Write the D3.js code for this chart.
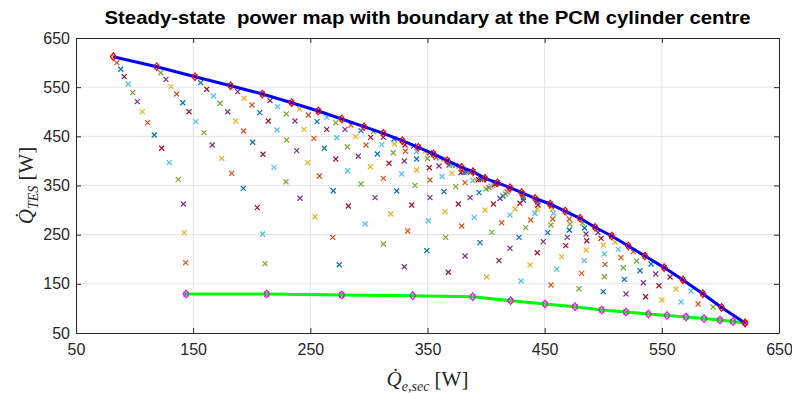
<!DOCTYPE html>
<html>
<head>
<meta charset="utf-8">
<script src="https://cdn.jsdelivr.net/npm/d3@7"></script>
<style>
  body { margin: 0; background: #fff; }
  .axis text { font-family: "Liberation Sans", Arial, sans-serif; font-size: 16px; fill: #262626; }
</style>
</head>
<body>
<div id="chart"></div>
<script>
// ticks
const xTicks = [50, 150, 250, 350, 450, 550, 650];
const yTicks = [50, 150, 250, 350, 450, 550, 650];

// operating points, one row per fan, bottom (lower boundary) to top (upper boundary), 17 each
const fanX = [
  [143.9, 143.6, 142.4, 141.6, 137.3, 129.6, 123.1, 116.8, 111.2, 106.6, 102.3, 98.4, 94.6, 91.2, 88.2, 84.8, 81.8],
  [212.8, 211.3, 209.3, 204.7, 192.8, 182.9, 174.4, 166.3, 159.2, 152.2, 146.4, 141.1, 135.9, 131.1, 126.8, 122.3, 118.9],
  [276.8, 274.7, 269.1, 254.0, 241.2, 229.2, 219.0, 209.6, 200.8, 193.1, 186.3, 179.5, 172.9, 167.2, 161.6, 156.4, 151.6],
  [337.4, 330.2, 312.3, 296.7, 282.4, 269.6, 257.7, 247.8, 238.4, 229.8, 221.6, 214.1, 206.8, 200.2, 193.6, 188.0, 182.0],
  [388.6, 367.8, 349.3, 333.1, 318.6, 305.2, 293.2, 281.9, 271.7, 261.9, 253.1, 244.6, 236.9, 229.5, 222.1, 215.6, 209.0],
  [421.0, 400.5, 382.0, 365.5, 350.7, 336.5, 323.7, 312.3, 301.2, 290.9, 281.6, 272.5, 264.0, 255.7, 248.3, 240.9, 234.1],
  [450.3, 429.8, 411.0, 394.8, 379.2, 364.9, 352.1, 339.3, 328.0, 317.1, 307.2, 297.5, 288.7, 279.6, 271.7, 264.0, 256.8],
  [475.9, 455.4, 437.5, 420.4, 404.8, 389.9, 376.3, 364.1, 352.1, 340.8, 330.2, 320.8, 310.9, 301.5, 293.2, 284.7, 276.8],
  [498.7, 479.3, 460.3, 443.7, 428.1, 413.3, 399.1, 386.3, 374.1, 362.4, 351.5, 340.8, 331.1, 321.8, 312.3, 303.9, 295.8],
  [519.4, 500.0, 481.6, 464.5, 448.8, 433.8, 420.4, 406.2, 394.0, 382.0, 370.7, 359.8, 350.0, 340.6, 330.8, 321.4, 312.3],
  [538.5, 519.4, 500.9, 483.8, 468.0, 452.6, 438.1, 424.7, 411.9, 399.9, 388.8, 378.6, 368.4, 357.3, 347.9, 338.1, 328.5],
  [554.4, 536.2, 518.0, 501.5, 485.3, 469.3, 455.4, 441.7, 428.9, 414.4, 402.5, 391.4, 381.2, 370.9, 360.7, 351.7, 342.2],
  [570.6, 550.1, 534.2, 517.1, 500.9, 485.9, 471.0, 456.9, 443.7, 431.8, 416.6, 404.2, 393.5, 383.3, 373.9, 363.9, 355.0],
  [586.0, 566.4, 547.6, 531.4, 515.1, 500.0, 485.3, 471.6, 457.4, 444.3, 431.9, 417.9, 405.9, 395.2, 385.4, 376.5, 366.9],
  [599.6, 580.9, 562.1, 544.8, 528.5, 512.8, 498.1, 484.0, 471.0, 456.7, 443.9, 431.5, 419.1, 407.4, 396.8, 387.1, 379.2],
  [610.7, 593.7, 574.9, 557.0, 540.8, 525.6, 510.0, 495.5, 482.3, 470.2, 455.8, 443.0, 431.1, 420.0, 408.7, 398.1, 388.8],
  [621.0, 601.0, 585.0, 568.0, 552.0, 535.6, 521.4, 507.2, 493.0, 480.2, 467.4, 454.6, 441.8, 430.4, 420.4, 409.8, 399.1]
];
const fanY = [
  [129.3, 193.0, 254.0, 312.4, 362.6, 396.4, 425.7, 452.8, 477.8, 500.2, 520.5, 538.8, 556.5, 571.3, 586.4, 599.8, 612.0],
  [129.3, 191.0, 251.4, 304.9, 344.3, 374.8, 405.3, 432.4, 457.4, 479.8, 500.1, 518.4, 536.1, 551.0, 566.0, 579.4, 591.6],
  [127.3, 188.9, 244.6, 286.5, 324.0, 357.7, 387.0, 413.5, 437.9, 460.8, 481.2, 500.1, 517.2, 532.0, 545.7, 559.1, 571.3],
  [125.9, 184.8, 231.0, 271.7, 308.3, 339.4, 369.3, 396.4, 420.8, 442.5, 462.9, 481.2, 498.1, 513.7, 527.4, 540.8, 553.0],
  [123.8, 173.5, 217.4, 257.5, 292.0, 325.2, 353.1, 380.1, 403.9, 425.7, 446.0, 464.3, 481.2, 495.4, 510.3, 522.5, 536.1],
  [115.7, 163.9, 206.6, 244.6, 278.4, 310.3, 338.8, 364.6, 388.2, 409.4, 428.9, 447.2, 464.3, 479.8, 493.4, 505.6, 518.4],
  [109.0, 155.8, 197.1, 233.7, 267.6, 296.7, 325.2, 350.4, 373.4, 395.2, 414.1, 432.4, 449.3, 464.3, 477.7, 488.7, 501.5],
  [103.5, 147.6, 188.3, 222.3, 254.8, 285.3, 312.4, 337.4, 361.2, 381.5, 399.8, 416.7, 433.0, 448.0, 461.5, 473.1, 485.3],
  [96.8, 140.1, 179.6, 213.3, 244.6, 274.3, 300.2, 325.2, 347.6, 368.3, 386.2, 403.9, 419.6, 434.4, 448.0, 459.8, 469.6],
  [92.7, 134.0, 171.4, 205.2, 235.7, 264.2, 290.0, 312.4, 335.4, 355.7, 374.8, 389.7, 404.9, 419.2, 432.4, 444.6, 456.2],
  [88.6, 129.3, 164.5, 197.1, 227.6, 254.0, 279.8, 302.2, 323.6, 342.9, 360.2, 376.4, 391.7, 407.0, 419.2, 430.3, 441.1],
  [85.6, 123.8, 159.2, 189.7, 218.8, 244.6, 269.7, 293.5, 313.8, 328.6, 345.9, 361.2, 376.8, 391.3, 405.3, 416.5, 427.7],
  [82.5, 117.1, 152.3, 182.8, 210.7, 237.7, 259.5, 281.9, 302.2, 320.5, 332.7, 348.4, 362.0, 377.3, 390.5, 402.9, 414.1],
  [79.5, 113.1, 146.2, 176.7, 203.2, 229.0, 251.4, 271.7, 293.5, 310.3, 325.6, 336.8, 350.6, 362.8, 377.7, 389.1, 400.4],
  [76.4, 109.0, 139.5, 170.0, 196.4, 220.2, 242.6, 263.6, 281.9, 302.2, 316.4, 329.7, 339.8, 352.6, 363.6, 377.9, 387.0],
  [73.4, 102.9, 135.4, 163.9, 190.3, 215.4, 235.1, 254.4, 273.7, 293.5, 308.3, 320.5, 332.7, 342.9, 354.3, 364.2, 378.1],
  [70.3, 102.0, 130.0, 158.0, 183.0, 206.6, 227.0, 247.3, 265.0, 283.3, 298.1, 312.4, 324.0, 335.4, 345.5, 355.5, 364.6]
];

const colorOrder = ['#0072BD', '#D95319', '#EDB120', '#7E2F8E', '#77AC30', '#4DBEEE', '#A2142F'];

// boundaries: lower = first point of every fan, upper = last point of every fan, then down the last fan
const lowerX = fanX.map(r => r[0]);
const lowerY = fanY.map(r => r[0]);
const lastX = fanX[fanX.length - 1], lastY = fanY[fanY.length - 1];
const upperX = fanX.map(r => r[r.length - 1]).concat(lastX.slice(0, -1).reverse());
const upperY = fanY.map(r => r[r.length - 1]).concat(lastY.slice(0, -1).reverse());

const config = { width: 792, height: 393, margin: { top: 38, right: 13, bottom: 60, left: 76 } };
const width = config.width - config.margin.left - config.margin.right;
const height = config.height - config.margin.top - config.margin.bottom;

const svg = d3.select('#chart').append('svg')
    .attr('width', config.width)
    .attr('height', config.height);

const xScale = d3.scaleLinear().domain([50, 650]).range([0, width]);
const yScale = d3.scaleLinear().domain([50, 650]).range([height, 0]);

const chart = svg.append('g')
    .attr('transform', `translate(${config.margin.left}, ${config.margin.top})`);

// grid
chart.append('g').selectAll('line')
    .data(xTicks.slice(1, -1)).enter().append('line')
    .attr('x1', d => xScale(d)).attr('x2', d => xScale(d))
    .attr('y1', 0).attr('y2', height)
    .attr('stroke', '#e3e3e3').attr('stroke-width', 1);
chart.append('g').selectAll('line')
    .data(yTicks.slice(1, -1)).enter().append('line')
    .attr('y1', d => yScale(d)).attr('y2', d => yScale(d))
    .attr('x1', 0).attr('x2', width)
    .attr('stroke', '#e3e3e3').attr('stroke-width', 1);

// scatter points: every point is its own plot call, so the colour order runs on through all of them
const points = [];
fanX.forEach((row, i) => {
    row.forEach((x, k) => {
        points.push({ x: x, y: fanY[i][k], c: colorOrder[(i * 17 + k) % 7] });
    });
});
const xs = 2.5;
chart.append('g').selectAll('path')
    .data(points).enter().append('path')
    .attr('d', d => {
        const cx = xScale(d.x), cy = yScale(d.y);
        return `M${cx - xs},${cy - xs}L${cx + xs},${cy + xs}M${cx - xs},${cy + xs}L${cx + xs},${cy - xs}`;
    })
    .attr('stroke', d => d.c)
    .attr('stroke-width', 1.2)
    .attr('fill', 'none');

// boundaries
const line = d3.line().x(d => xScale(d[0])).y(d => yScale(d[1]));
const upper = upperX.map((x, i) => [x, upperY[i]]);
const lower = lowerX.map((x, i) => [x, lowerY[i]]);

chart.append('path').datum(lower)
    .attr('d', line).attr('fill', 'none')
    .attr('stroke', '#00ff00').attr('stroke-width', 3);
chart.append('path').datum(upper)
    .attr('d', line).attr('fill', 'none')
    .attr('stroke', '#0000ff').attr('stroke-width', 3);

const diamond = (cx, cy) => `M${cx},${cy - 3.8}L${cx + 2.8},${cy}L${cx},${cy + 3.8}L${cx - 2.8},${cy}Z`;
chart.append('g').selectAll('path')
    .data(lower).enter().append('path')
    .attr('d', d => diamond(xScale(d[0]), yScale(d[1])))
    .attr('fill', 'none').attr('stroke', '#ff00ff').attr('stroke-width', 1.2);
chart.append('g').selectAll('path')
    .data(upper).enter().append('path')
    .attr('d', d => diamond(xScale(d[0]), yScale(d[1])))
    .attr('fill', 'none').attr('stroke', '#ff0000').attr('stroke-width', 1.2);

// axes (box with inward ticks)
const xAxis = d3.axisBottom(xScale).tickValues(xTicks).tickSizeInner(-5).tickSizeOuter(0).tickPadding(11);
const yAxis = d3.axisLeft(yScale).tickValues(yTicks).tickSizeInner(-5).tickSizeOuter(0).tickPadding(6);

chart.append('g').attr('class', 'axis x-axis')
    .attr('transform', `translate(0, ${height})`)
    .call(xAxis);
chart.append('g').attr('class', 'axis y-axis')
    .call(yAxis);
chart.append('g').attr('class', 'axis')
    .call(d3.axisTop(xScale).tickValues(xTicks).tickSizeInner(-5).tickSizeOuter(0).tickFormat(''));
chart.append('g').attr('class', 'axis')
    .attr('transform', `translate(${width}, 0)`)
    .call(d3.axisRight(yScale).tickValues(yTicks).tickSizeInner(-5).tickSizeOuter(0).tickFormat(''));
chart.selectAll('.axis path.domain').attr('stroke', '#262626');
chart.selectAll('.axis line').attr('stroke', '#262626');

// title
svg.append('text')
    .attr('x', config.margin.left + width / 2)
    .attr('y', 24)
    .attr('text-anchor', 'middle')
    .attr('textLength', 646)
    .attr('lengthAdjust', 'spacingAndGlyphs')
    .style('font-family', '"Liberation Sans", Arial, sans-serif')
    .style('font-weight', 'bold')
    .style('font-size', '19px')
    .style('fill', '#000')
    .attr('xml:space', 'preserve')
    .text('Steady-state  power map with boundary at the PCM cylinder centre');

// X axis label
const xl = svg.append('text')
    .attr('x', config.margin.left + width / 2)
    .attr('y', 386)
    .attr('text-anchor', 'middle')
    .style('font-family', '"Liberation Serif", "Times New Roman", serif')
    .style('font-size', '21px')
    .style('fill', '#262626');
xl.append('tspan').style('font-style', 'italic').text('Q\u0307');
xl.append('tspan').attr('dy', 5).style('font-style', 'italic').style('font-size', '14px').text('e,sec');
xl.append('tspan').attr('dy', -5).text(' [W]');

// Y axis label
const yl = svg.append('text')
    .attr('transform', `translate(33, ${config.margin.top + height / 2}) rotate(-90)`)
    .attr('text-anchor', 'middle')
    .style('font-family', '"Liberation Serif", "Times New Roman", serif')
    .style('font-size', '21px')
    .style('fill', '#262626');
yl.append('tspan').style('font-style', 'italic').text('Q\u0307');
yl.append('tspan').attr('dy', 5).style('font-style', 'italic').style('font-size', '14px').text('TES');
yl.append('tspan').attr('dy', -5).text(' [W]');
</script>
</body>
</html>
